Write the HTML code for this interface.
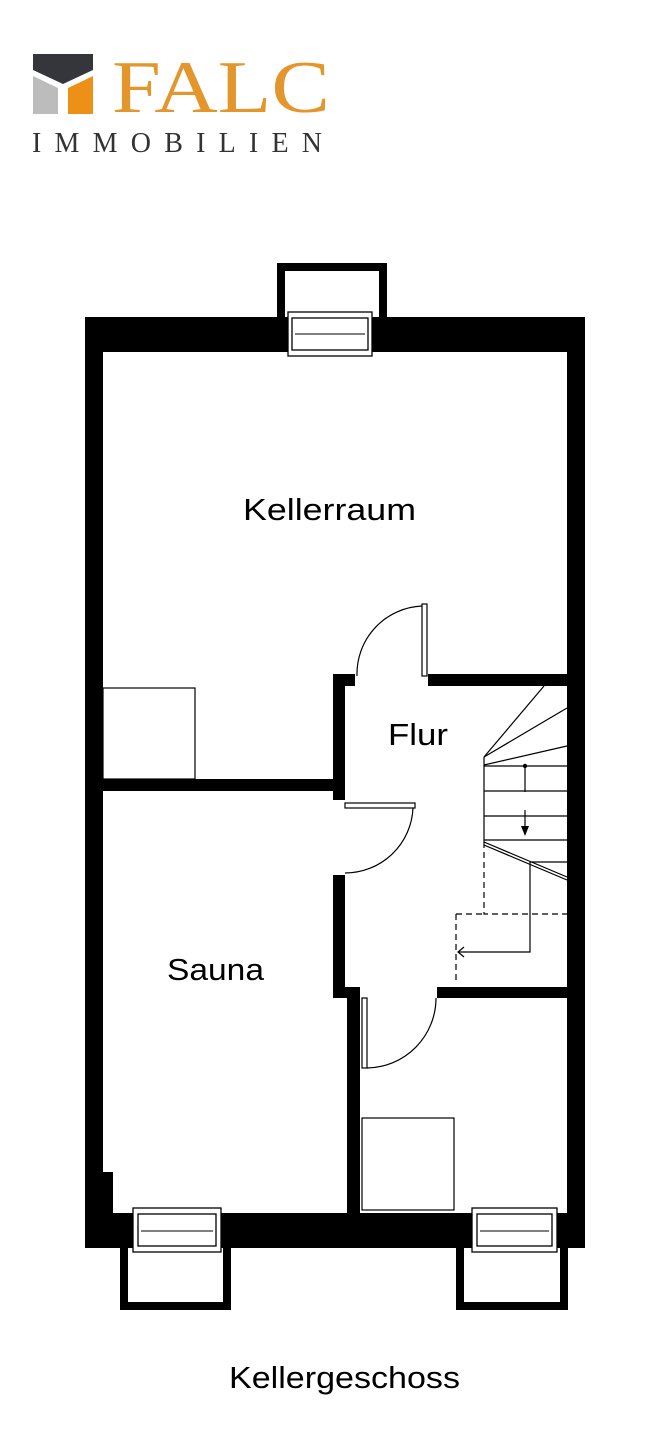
<!DOCTYPE html>
<html><head><style>body{margin:0;background:#fff;width:660px;height:1440px;overflow:hidden;font-family:"Liberation Sans",sans-serif}</style></head><body>
<svg width="660" height="1440" viewBox="0 0 660 1440" xmlns="http://www.w3.org/2000/svg">
<!-- logo -->
<polygon points="33,54 93,54 93,70 63,84 33,70" fill="#35363b"/>
<polygon points="33,76 58,88 58,114 33,114" fill="#bcbcbc"/>
<polygon points="68,88 93,76 93,114 68,114" fill="#ec9018"/>
<text x="112" y="112" font-family="Liberation Serif,serif" font-size="74" fill="#e2962c" textLength="218" lengthAdjust="spacingAndGlyphs">FALC</text>
<text x="32" y="152" font-family="Liberation Serif,serif" font-size="28" fill="#333" textLength="290" lengthAdjust="spacing">IMMOBILIEN</text>
<!-- light wells -->
<path d="M277,317 V263 H387 V317 H379 V271 H285 V317 Z" fill="#000"/>
<path d="M120,1248 V1310 H231 V1248 H223 V1302 H128 V1248 Z" fill="#000"/>
<path d="M456,1248 V1310 H568 V1248 H560 V1302 H464 V1248 Z" fill="#000"/>
<!-- outer walls -->
<rect x="85" y="317" width="500" height="35" fill="#000"/>
<rect x="85" y="317" width="18" height="931" fill="#000"/>
<rect x="567" y="317" width="18" height="931" fill="#000"/>
<rect x="85" y="1213" width="500" height="35" fill="#000"/>
<rect x="103" y="1172" width="10" height="41" fill="#000"/>
<!-- windows -->
<g fill="#fff" stroke="#000" stroke-width="1.3">
<rect x="288" y="312" width="84" height="44"/><rect x="292" y="318" width="76" height="32"/>
<rect x="133" y="1208" width="88" height="44"/><rect x="138" y="1214" width="78" height="32"/>
<rect x="472" y="1208" width="85" height="44"/><rect x="477" y="1214" width="75" height="32"/>
</g>
<line x1="295" y1="334" x2="365" y2="334" stroke="#000"/>
<line x1="141" y1="1231" x2="213" y2="1231" stroke="#000"/>
<line x1="480" y1="1231" x2="549" y2="1231" stroke="#000"/>
<!-- interior walls -->
<rect x="103" y="779" width="232" height="12" fill="#000"/>
<rect x="333" y="674" width="12" height="126" fill="#000"/>
<rect x="333" y="875" width="12" height="123" fill="#000"/>
<rect x="333" y="674" width="22" height="12" fill="#000"/>
<rect x="428" y="674" width="139" height="12" fill="#000"/>
<rect x="333" y="987" width="27" height="11" fill="#000"/>
<rect x="437" y="987" width="130" height="11" fill="#000"/>
<rect x="347" y="987" width="13" height="226" fill="#000"/>
<!-- doors -->
<g fill="none" stroke="#000" stroke-width="1.2">
<rect x="422" y="604" width="5" height="72"/>
<path d="M357,676 A68,68 0 0 1 422,606"/>
<rect x="345" y="803" width="70" height="5"/>
<path d="M413,808 A68,68 0 0 1 345,873"/>
<rect x="362" y="998" width="5" height="70"/>
<path d="M367,1068 A70,70 0 0 0 436,998"/>
<!-- boxes -->
<rect x="103" y="688" width="92" height="91"/>
<rect x="362" y="1118" width="92" height="92"/>
<!-- stairs -->
<line x1="484" y1="757" x2="484" y2="842"/>
<line x1="484" y1="757" x2="544" y2="686"/>
<line x1="484" y1="757" x2="567" y2="708"/>
<line x1="484" y1="765" x2="567" y2="746"/>
<line x1="484" y1="766" x2="567" y2="766"/>
<line x1="484" y1="791" x2="567" y2="791"/>
<line x1="484" y1="816" x2="567" y2="816"/>
<line x1="484" y1="840" x2="567" y2="840"/>
<line x1="484" y1="842" x2="567" y2="877"/>
<line x1="484" y1="845" x2="567" y2="880"/>
<line x1="530" y1="862" x2="567" y2="862"/>
<path d="M530,862 V952 H458"/>
<path d="M464,947 L458,952 L464,957"/>
<path d="M484,842 V914 H567 M456,914 V982" stroke-dasharray="6,4"/>
<path d="M456,914 H484" stroke-dasharray="6,4"/>
<line x1="525" y1="766" x2="525" y2="792"/>
<line x1="525" y1="810" x2="525" y2="830"/>
</g>
<circle cx="525" cy="766" r="2.2" fill="#000"/>
<polygon points="521,826 529,826 525,836" fill="#000"/>
<!-- labels -->
<g font-family="Liberation Sans,sans-serif" font-size="31" fill="#000" lengthAdjust="spacingAndGlyphs">
<text x="243" y="520" textLength="173" lengthAdjust="spacingAndGlyphs">Kellerraum</text>
<text x="388" y="745" textLength="60" lengthAdjust="spacingAndGlyphs">Flur</text>
<text x="167" y="980" textLength="97" lengthAdjust="spacingAndGlyphs">Sauna</text>
<text x="229" y="1388" textLength="231" lengthAdjust="spacingAndGlyphs">Kellergeschoss</text>
</g>
</svg>
</body></html>
